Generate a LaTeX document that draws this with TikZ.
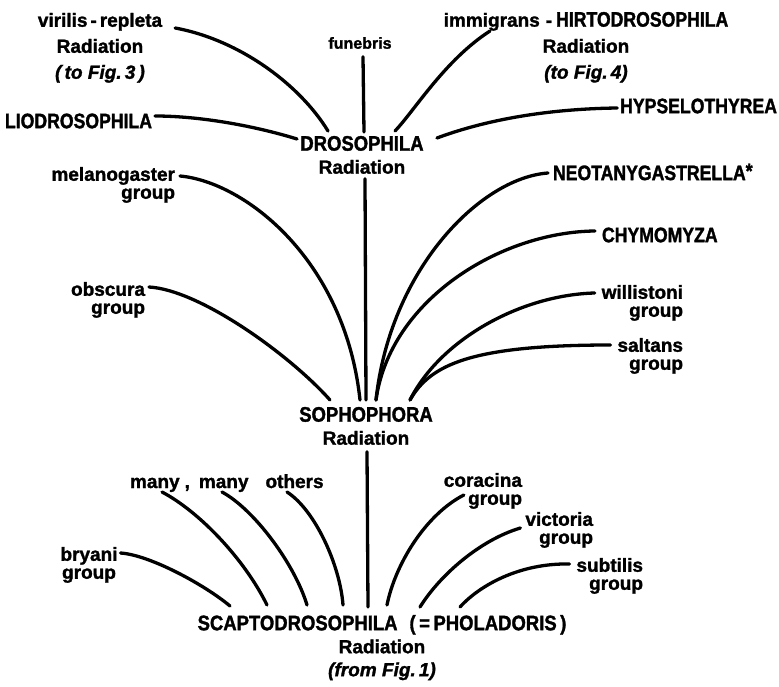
\documentclass[tikz,border=0pt]{standalone}
\usepackage{fontspec}
\setmainfont{Liberation Sans}[BoldFeatures={FakeBold=1.5}, BoldItalicFeatures={FakeBold=1.5}]
\newfontfamily\capsf{Liberation Sans}[FakeStretch=0.84, BoldFeatures={FakeBold=1.5}]
\newfontfamily\hubsf{Liberation Sans}[FakeStretch=0.88, BoldFeatures={FakeBold=1.5}]
\usetikzlibrary{calc}

% narrow capitals for genus names
\newcommand\cp[1]{{\capsf\fontsize{21}{21}\selectfont #1}}
\newcommand\hc[1]{{\hubsf\fontsize{21}{21}\selectfont #1}}

\tikzset{
  every node/.style={inner sep=0pt, outer sep=0pt},
  lbl/.style={font=\bfseries\fontsize{19}{18}\selectfont},
  grp/.style={lbl, align=right},
  caps/.style={font=\capsf\bfseries\fontsize{21}{21}\selectfont},
  hub/.style={align=center, font=\bfseries\fontsize{19}{23}\selectfont},
  rad/.style={align=center, font=\bfseries\fontsize{19}{26}\selectfont},
  branch/.style={line width=3.3pt, line cap=round},
}

\begin{document}
\begin{tikzpicture}[x=1pt, y=-1pt]
\fill[white] (0,0) rectangle (779,687);
\useasboundingbox (0,0) rectangle (779,687);

% radiation centres
\node[hub, anchor=north] (dros) at (362,136) {\hc{DROSOPHILA}\\Radiation};
\node[hub, anchor=north] (soph) at (366,407) {\hc{SOPHOPHORA}\\Radiation};
\node[hub, anchor=north] (scap) at (382,615)
  {\hc{SCAPTODROSOPHILA\hspace{12pt}(\,=\,PHOLADORIS\,)}\\Radiation\\\textit{(from Fig.\,1)}};

% branches of the Drosophila radiation
\node[rad, anchor=north] (vir) at (100,13)
  {virilis\hspace{3pt}-\hspace{3pt}repleta\\Radiation\\\textit{(\,to Fig.\,3\,)}};
\node[lbl, font=\bfseries\fontsize{16}{16}\selectfont] (fun) at (360,43) {funebris};
\node[rad, anchor=north] (imm) at (586,12)
  {immigrans\hspace{6pt}-\hspace{4pt}\cp{HIRTODROSOPHILA}\\Radiation\\\textit{(to Fig.\,4)}};
\node[caps, anchor=west] (lio) at (5,121) {LIODROSOPHILA};
\node[caps, anchor=east] (hyp) at (777,106) {HYPSELOTHYREA};

% branches of the Sophophora radiation
\node[grp, anchor=north east] (mel) at (175,167) {melanogaster\\group};
\node[grp, anchor=north east] (obs) at (145,282) {obscura\\group};
\node[caps, anchor=west] (neo) at (553,172) {NEOTANYGASTRELLA\raisebox{2pt}{*}};
\node[caps, anchor=west] (chy) at (602,235) {CHYMOMYZA};
\node[grp, anchor=north east] (wil) at (683,285) {willistoni\\group};
\node[grp, anchor=north east] (sal) at (683,338) {saltans\\group};

% branches of the Scaptodrosophila radiation
\node[lbl, align=center, anchor=north] (bry) at (89,547) {bryani\\group};
\node[lbl, anchor=base west] (many) at (130,488)
  {many\hspace{5pt},\hspace{9pt}many\hspace{17pt}others};
\node[grp, anchor=north east] (cor) at (522,473) {coracina\\group};
\node[grp, anchor=north east] (vic) at (593,512) {victoria\\group};
\node[grp, anchor=north east] (sub) at (643,558) {subtilis\\group};

% Drosophila connectors
\draw[branch] ($(vir.north east)+(13,15)$) .. controls (240,40) and (300,85) .. ($(dros.north)+(-34,-5)$);
\draw[branch] ($(fun.south)+(3,8)$) -- ($(dros.north)+(2,-4)$);
\draw[branch] ($(imm.north)+(-96,19)$) .. controls (445,60) and (415,110) .. ($(dros.north)+(33,-5)$);
\draw[branch] ($(lio.east)+(3,-5)$) .. controls (200,116) and (255,126) .. ($(dros.north)+(-65,3)$);
\draw[branch] ($(hyp.west)+(-3,2)$) .. controls (540,109) and (480,122) .. ($(dros.north)+(75,2)$);
\draw[branch] ($(dros.south)+(3,5)$) -- ($(soph.north)+(0,-7)$);

% Sophophora connectors
\draw[branch] ($(mel.north east)+(5,9)$) .. controls (245,182) and (345,260) .. ($(soph.north)+(-6,-7)$);
\draw[branch] ($(obs.north east)+(4,5)$) .. controls (200,290) and (290,355) .. ($(soph.north)+(-36,-7)$);
\draw[branch] ($(neo.west)+(-5,1)$) .. controls (480,178) and (390,270) .. ($(soph.north)+(10,-7)$);
\draw[branch] ($(chy.west)+(-7,-4)$) .. controls (500,232) and (390,300) .. ($(soph.north)+(10,-7)$);
\draw[branch] ($(wil.north west)+(-7,8)$) .. controls (520,295) and (440,340) .. ($(soph.north)+(44,-7)$);
\draw[branch] ($(sal.north west)+(-7,7)$) .. controls (470,345) and (430,365) .. ($(soph.north)+(44,-7)$);
\draw[branch] ($(soph.south)+(1,7)$) -- ($(scap.north)+(-14,-8)$);

% Scaptodrosophila connectors
\draw[branch] ($(bry.north east)+(3,6)$) .. controls (150,555) and (205,585) .. ($(scap.north)+(-152,-9)$);
\draw[branch] ($(many.base west)+(32,4)$) .. controls (200,512) and (245,560) .. ($(scap.north)+(-115,-10)$);
\draw[branch] ($(many.base west)+(92,4)$) .. controls (255,510) and (295,565) .. ($(scap.north)+(-75,-10)$);
\draw[branch] ($(many.base west)+(157,4)$) .. controls (315,510) and (340,565) .. ($(scap.north)+(-39,-10)$);
\draw[branch] ($(cor.north west)+(20,22)$) .. controls (425,515) and (395,565) .. ($(scap.north)+(5,-10)$);
\draw[branch] ($(vic.north west)+(-5,16)$) .. controls (480,540) and (440,575) .. ($(scap.north)+(38,-8)$);
\draw[branch] ($(sub.north west)+(-7,6)$) .. controls (520,563) and (480,585) .. ($(scap.north)+(78,-8)$);
\end{tikzpicture}
\end{document}
